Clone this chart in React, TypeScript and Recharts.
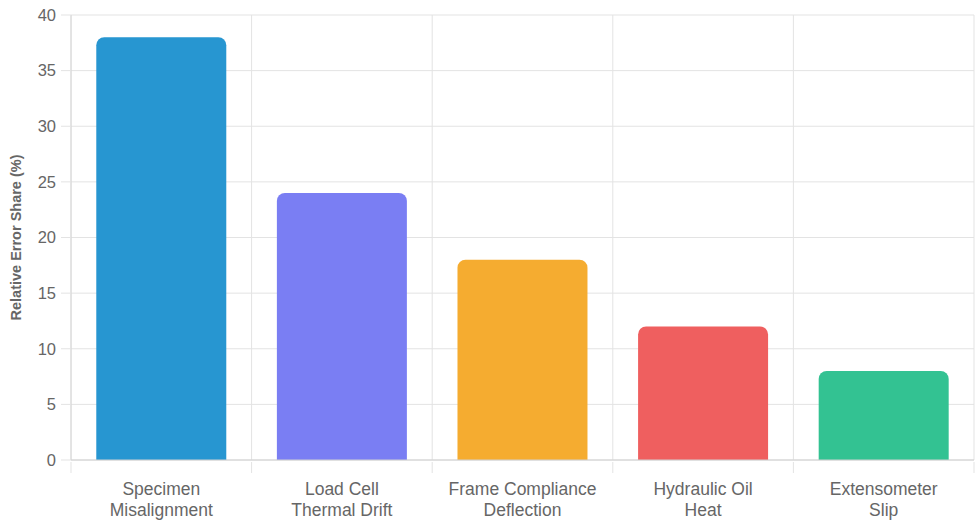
import React from 'react';
import { BarChart, Bar, XAxis, YAxis, CartesianGrid, Cell } from 'recharts';

const categories = [
  'Specimen\nMisalignment',
  'Load Cell\nThermal Drift',
  'Frame Compliance\nDeflection',
  'Hydraulic Oil\nHeat',
  'Extensometer\nSlip',
];
const errorShare = [38, 24, 18, 12, 8];
const barColors = ['#2796d1', '#7a7ef3', '#f5ac30', '#ef5f5f', '#33c292'];
const yTicks = [0, 5, 10, 15, 20, 25, 30, 35, 40];

const data = categories.map((name, i) => ({ name, value: errorShare[i] }));

const FONT = '"Liberation Sans", Arial, Helvetica, sans-serif';
const GRID = '#e3e3e3';

// category label plus the short grid tick on each band boundary below the axis
const CategoryTick = (props: any) => {
  const { x, y, payload, index, width } = props;
  const band = width / categories.length;
  const lines = String(payload.value).split('\n');
  const left = x - band / 2;
  const right = x + band / 2;
  return (
    <g>
      <line x1={left} x2={left} y1={y} y2={y + 11} stroke={GRID} />
      {index === categories.length - 1 && (
        <line x1={right} x2={right} y1={y} y2={y + 11} stroke={GRID} />
      )}
      <text x={x} y={y} textAnchor="middle" fill="#666" fontSize={17.5} fontFamily={FONT}>
        {lines.map((line, i) => (
          <tspan key={i} x={x} dy={i === 0 ? 33 : 21}>
            {line}
          </tspan>
        ))}
      </text>
    </g>
  );
};

const YLabel = (props: any) => {
  const { viewBox } = props;
  const cx = 16;
  const cy = viewBox.y + viewBox.height / 2;
  return (
    <text
      x={cx}
      y={cy}
      transform={`rotate(-90, ${cx}, ${cy})`}
      textAnchor="middle"
      dominantBaseline="central"
      fill="#666"
      fontSize={14.5}
      fontWeight="bold"
      fontFamily={FONT}
    >
      Relative Error Share (%)
    </text>
  );
};

// vertical grid lines sit on category boundaries, not centres
const boundaryLines = ({ offset }: any) =>
  categories.concat('').map((_, i) => offset.left + (i * offset.width) / categories.length);

export default function App() {
  return (
    <div style={{ position: 'absolute', left: 0, top: 0, width: 975, height: 525, background: '#fff' }}>
      <BarChart
        width={975}
        height={525}
        data={data}
        margin={{ top: 15, right: 1, bottom: 0, left: 0 }}
        barCategoryGap="14%"
      >
        <CartesianGrid stroke={GRID} verticalCoordinatesGenerator={boundaryLines} />
        <XAxis
          dataKey="name"
          interval={0}
          tick={<CategoryTick />}
          tickLine={false}
          tickSize={0}
          axisLine={{ stroke: '#d0d0d0' }}
          height={65}
        />
        <YAxis
          domain={[0, 40]}
          ticks={yTicks}
          width={71}
          tickSize={10}
          tickMargin={5}
          tickLine={{ stroke: GRID }}
          axisLine={{ stroke: '#d6d6d6' }}
          tick={{ fill: '#666', fontSize: 16.5, fontFamily: FONT }}
          label={<YLabel />}
        />
        <Bar dataKey="value" radius={[8, 8, 0, 0]} isAnimationActive={false}>
          {data.map((d, i) => (
            <Cell key={d.name} fill={barColors[i]} />
          ))}
        </Bar>
      </BarChart>
    </div>
  );
}
